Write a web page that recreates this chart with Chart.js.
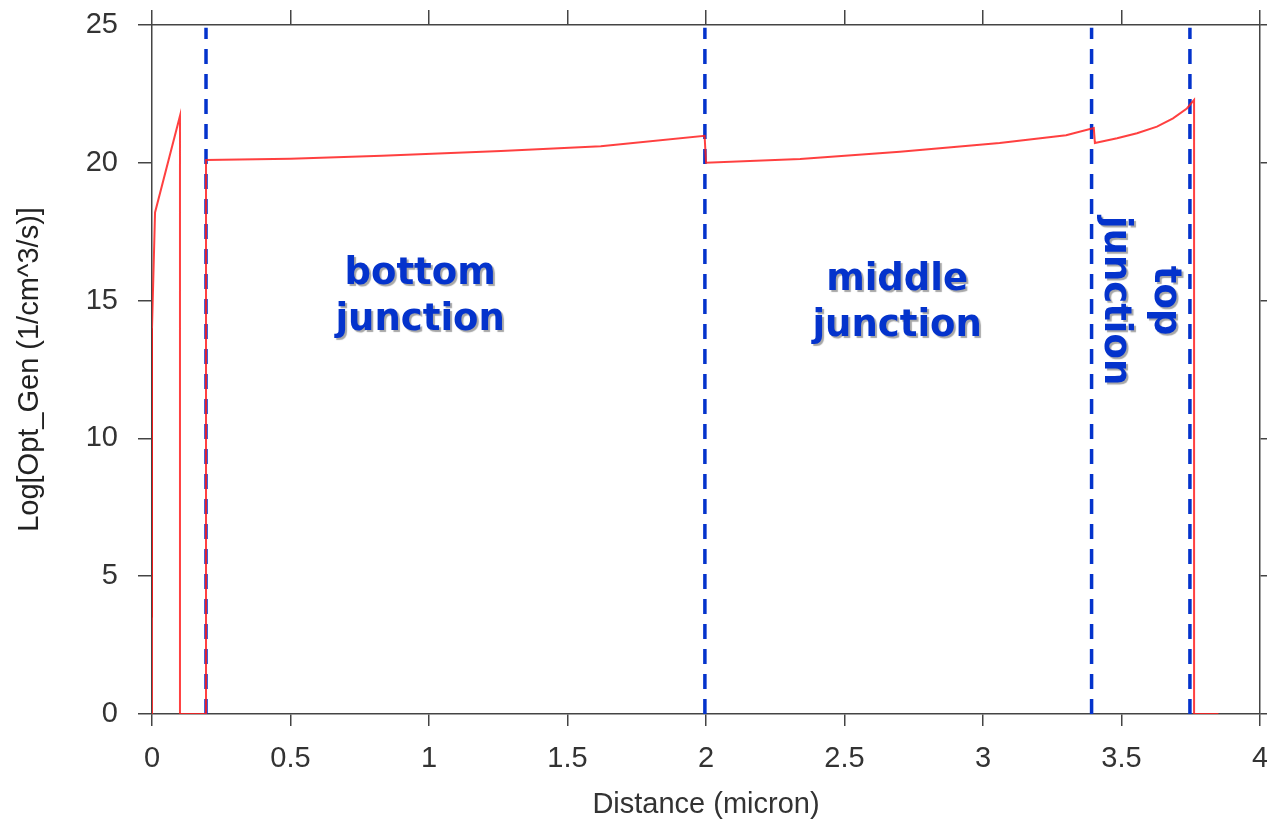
<!DOCTYPE html>
<html lang="en">
  <head>
    <meta charset="UTF-8" />
    <title>Opt_Gen profile</title>
    <script src="https://cdn.jsdelivr.net/npm/chart.js"></script>
    <style>
      body { margin: 0; background: #fff; }
      #wrap { width: 1267px; height: 823px; }
    </style>
  </head>
  <body>
    <div id="wrap"><canvas id="genChart" width="1267" height="823"></canvas></div>

    <script>
      // profile (micron, log10 of generation rate)
      const distance = [0, 0, 0.011, 0.101, 0.101, 0.195, 0.195, 0.5, 0.83, 1.26, 1.62, 1.995, 2.0, 2.34, 2.70, 3.06, 3.30, 3.40, 3.404, 3.484, 3.556, 3.628, 3.686, 3.736, 3.762, 3.762, 3.85];
      const logGen = [0, 14, 18.2, 21.7, 0, 0, 20.1, 20.15, 20.26, 20.43, 20.6, 20.98, 20.0, 20.14, 20.4, 20.72, 21.0, 21.26, 20.72, 20.89, 21.07, 21.31, 21.61, 21.97, 22.28, 0, 0];

      // darker stretch right at the surface
      const surfaceX = [0, 0];
      const surfaceY = [3.5, 14];

      // junction boundaries (dashed lines)
      const boundaries = [0.195, 1.996, 3.392, 3.747];
      const boundaryTop = 24.9;

      const xTicks = [0, 0.5, 1, 1.5, 2, 2.5, 3, 3.5, 4];
      const yTicks = [0, 5, 10, 15, 20, 25];

      const labelsFlat = [['bottom', 'junction'], ['middle', 'junction']];
      const labelsTurned = ['junction', 'top'];

      const toPoints = (xs, ys) => xs.map((x, i) => ({ x: x, y: ys[i] }));

      const datasets = [
        {
          data: toPoints(distance, logGen),
          borderColor: 'rgba(255, 30, 30, 0.85)',
          borderWidth: 2,
          pointRadius: 0,
          tension: 0
        },
        {
          data: toPoints(surfaceX, surfaceY),
          borderColor: '#8a0000',
          borderWidth: 2,
          pointRadius: 0
        }
      ];
      boundaries.forEach(b => {
        datasets.push({
          data: [{ x: b, y: 0 }, { x: b, y: boundaryTop }],
          borderColor: '#0433cc',
          borderWidth: 3.5,
          borderDash: [15, 10],
          pointRadius: 0
        });
      });

      const axisColor = '#444';
      const tickFont = { family: 'Liberation Sans', size: 29 };

      // text in the plot, blue with a soft shadow
      const junctionText = {
        id: 'junctionText',
        afterDatasetsDraw(chart) {
          const { ctx, scales } = chart;
          const px = v => scales.x.getPixelForValue(v);
          const py = v => scales.y.getPixelForValue(v);
          ctx.save();
          ctx.font = 'bold 37px "DejaVu Sans"';
          ctx.fillStyle = '#0433cc';
          ctx.shadowColor = 'rgba(0, 0, 0, 0.35)';
          ctx.shadowOffsetX = 2;
          ctx.shadowOffsetY = 2;
          ctx.shadowBlur = 1;
          ctx.textAlign = 'center';
          ctx.textBaseline = 'alphabetic';

          ctx.fillText(labelsFlat[0][0], px(0.968), py(15.6));
          ctx.fillText(labelsFlat[0][1], px(0.968), py(13.95));
          ctx.fillText(labelsFlat[1][0], px(2.69), py(15.4));
          ctx.fillText(labelsFlat[1][1], px(2.69), py(13.7));

          [[labelsTurned[0], 3.44], [labelsTurned[1], 3.62]].forEach(([t, xv]) => {
            ctx.save();
            ctx.translate(px(xv), py(15.0));
            ctx.rotate(Math.PI / 2);
            ctx.fillText(t, 0, 0);
            ctx.restore();
          });
          ctx.restore();
        }
      };

      const fixedTicks = list => scale => {
        scale.ticks = list.map(v => ({ value: v }));
      };

      // fixed box sizes, no extra room for overhanging labels
      const fitTo = (w, h) => s => {
        if (w !== null) s.width = w;
        if (h !== null) s.height = h;
        s.paddingLeft = 0;
        s.paddingRight = 0;
        s.paddingTop = 0;
        s.paddingBottom = 0;
      };

      new Chart(document.getElementById('genChart'), {
        type: 'line',
        data: { datasets: datasets },
        plugins: [junctionText],
        options: {
          responsive: false,
          animation: false,
          layout: { padding: 0 },
          plugins: { legend: { display: false }, tooltip: { enabled: false } },
          scales: {
            x: {
              type: 'linear',
              position: 'bottom',
              min: 0,
              max: 4,
              afterBuildTicks: fixedTicks(xTicks),
              afterFit: fitTo(null, 109),
              grid: { drawOnChartArea: false, tickLength: 12, color: axisColor, lineWidth: 1.5 },
              border: { color: axisColor, width: 1.5 },
              ticks: { font: tickFont, color: '#333', padding: 16, maxRotation: 0, callback: v => String(v) },
              title: {
                display: true,
                text: 'Distance (micron)',
                font: { family: 'Liberation Sans', size: 29 },
                color: '#333',
                padding: { top: 0, bottom: 1 }
              }
            },
            x2: {
              type: 'linear',
              position: 'top',
              min: 0,
              max: 4,
              afterBuildTicks: fixedTicks(xTicks),
              afterFit: fitTo(null, 25),
              grid: { drawOnChartArea: false, tickLength: 15, color: axisColor, lineWidth: 1.5 },
              border: { color: axisColor, width: 1.5 },
              ticks: { display: false }
            },
            y: {
              type: 'linear',
              position: 'left',
              min: 0,
              max: 25,
              afterBuildTicks: fixedTicks(yTicks),
              afterFit: fitTo(152, null),
              grid: { drawOnChartArea: false, tickLength: 14, color: axisColor, lineWidth: 1.5 },
              border: { color: axisColor, width: 1.5 },
              ticks: { font: tickFont, color: '#333', padding: 20, callback: v => String(v) },
              title: {
                display: true,
                text: 'Log[Opt_Gen (1/cm^3/s)]',
                font: { family: 'Liberation Sans', size: 29 },
                color: '#222',
                padding: { top: 13, bottom: 0 }
              }
            },
            y2: {
              type: 'linear',
              position: 'right',
              min: 0,
              max: 25,
              afterBuildTicks: fixedTicks(yTicks),
              afterFit: fitTo(7, null),
              grid: { drawOnChartArea: false, tickLength: 7, color: axisColor, lineWidth: 1.5 },
              border: { color: axisColor, width: 1.5 },
              ticks: { display: false }
            }
          }
        }
      });
    </script>
  </body>
</html>
